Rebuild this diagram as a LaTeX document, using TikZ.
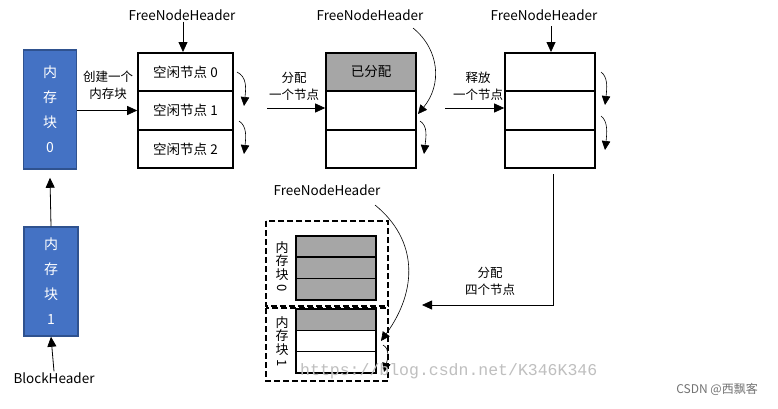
\documentclass[tikz,border=0pt]{standalone}
\usepackage{fontspec}
\newfontfamily\cjk{Noto Sans CJK SC}
\newfontfamily\wmfont{Liberation Mono}
\usetikzlibrary{arrows.meta}
\definecolor{blkfill}{RGB}{68,114,196}
\definecolor{blkdraw}{RGB}{47,82,143}
\definecolor{usedfill}{RGB}{166,166,166}
\tikzset{
  arr/.style={-{Triangle[length=10pt,width=9pt]}, line width=0.8pt},
  curl/.style={-{Triangle[length=9pt,width=8.5pt]}, line width=0.6pt},
  blk/.style={fill=blkfill, draw=blkdraw, line width=1.5pt, text=white, align=center,
    font=\cjk\fontsize{14}{25}\selectfont, inner sep=0pt},
  cell/.style={draw, line width=1.6pt, minimum height=38.5pt, inner sep=0pt,
    font=\cjk\fontsize{13.5}{16}\selectfont},
  cellA/.style={cell, minimum width=95pt},
  cellB/.style={cell, minimum width=90pt},
  small/.style={draw, line width=1.6pt, minimum width=80pt, minimum height=21.3pt, inner sep=0pt},
  used/.style={fill=usedfill},
  hdr/.style={font=\cjk\fontsize{13.5}{16}\selectfont, inner sep=1pt},
  lbl/.style={font=\cjk\fontsize{12.5}{17}\selectfont, align=center, inner sep=0pt},
  vtxt/.style={font=\cjk\fontsize{13}{13.5}\selectfont, align=center, inner sep=0pt},
  dbox/.style={draw, line width=1.5pt, dash pattern=on 6pt off 3pt},
}
\begin{document}
\begin{tikzpicture}[x=1pt,y=-1pt]
\useasboundingbox[fill=white] (0,0) rectangle (778,408);

% memory blocks
\node[blk, minimum width=53pt, minimum height=119pt] (b0) at (50,109.5) {内\\存\\块\\0};
\node[blk, minimum width=54pt, minimum height=109pt] (b1) at (51,281.5) {内\\存\\块\\1};
\node[hdr] (bh) at (54,378) {BlockHeader};
\draw[arr] (b1.north) -- ([yshift=-8pt]b0.south);
\draw[arr] (bh.north) -- (b1.south);

% column 1
\node[cellA] (c10) at (185.5,72) {空闲节点 0};
\node[cellA] (c11) at (185.5,110.5) {空闲节点 1};
\node[cellA] (c12) at (185.5,149) {空闲节点 2};
\node[hdr] (fh1) at (182,15) {FreeNodeHeader};
\draw[arr] (fh1.south -| 183,0) -- (183,52);
\node[lbl] (l1) at (108,85) {创建一个\\内存块};
\draw[arr] (b0.east |- c11.west) -- (c11.west);
\coordinate (k1a) at (237,72); \coordinate (k1b) at (244,106);
\coordinate (k1c) at (239,121); \coordinate (k1d) at (244,154);
\draw[curl] (k1a) .. controls (247,77) and (246,88) .. (k1b);
\draw[curl] (k1c) .. controls (247,126) and (246,137) .. (k1d);

% column 2
\node[cellB, used] (c20) at (371,72) {已分配};
\node[cellB] (c21) at (371,110.5) {};
\node[cellB] (c22) at (371,149) {};
\node[hdr] (fh2) at (370,15) {FreeNodeHeader};
\coordinate (a2) at (267,108);
\node[lbl] (l2) at (294,86) {分配\\一个节点};
\draw[arr] (a2) -- (a2 -| c21.west);
\coordinate (h2) at (413,28); \coordinate (h2e) at (418,114);
\draw[curl] (h2) .. controls (440,50) and (442,85) .. (h2e);
\coordinate (k2a) at (420,121); \coordinate (k2b) at (424,154);
\draw[curl] (k2a) .. controls (428,126) and (426,137) .. (k2b);

% column 3
\node[cellB] (c30) at (550,72) {};
\node[cellB] (c31) at (550,110.5) {};
\node[cellB] (c32) at (550,149) {};
\node[hdr] (fh3) at (544,15) {FreeNodeHeader};
\draw[arr] (551,26) -- (551,52);
\coordinate (a3) at (445,108);
\node[lbl] (l3) at (478,86) {释放\\一个节点};
\draw[arr] (a3) -- (a3 -| c31.west);
\coordinate (k3a) at (601,72); \coordinate (k3b) at (605,105);
\coordinate (k3c) at (601,116); \coordinate (k3d) at (605,150);
\draw[curl] (k3a) .. controls (608,77) and (607,88) .. (k3b);
\draw[curl] (k3c) .. controls (608,121) and (607,133) .. (k3d);

% allocation of four nodes
\coordinate (a4) at (422,305);
\draw[arr] (553,174) |- (a4);
\node[lbl] (l4) at (490,281) {分配\\四个节点};

% bottom group
\draw[dbox] (266,221) rectangle (388,306);
\draw[dbox] (266,308) rectangle (388,381);
\node[small, used] (d00) at (336,246.5) {};
\node[small, used] (d01) at (336,267.8) {};
\node[small, used] (d02) at (336,289.1) {};
\node[small, used] (d10) at (336,319.7) {};
\node[small] (d11) at (336,341) {};
\node[small] (d12) at (336,362.3) {};
\node[vtxt] (v0) at (282,267) {内\\存\\块\\\rotatebox[origin=c]{-90}{0}};
\node[vtxt] (v1) at (282,342) {内\\存\\块\\\rotatebox[origin=c]{-90}{1}};
\node[hdr] (fh4) at (327,190) {FreeNodeHeader};
\coordinate (h4) at (375,205); \coordinate (h4e) at (381,341);
\draw[curl] (h4) .. controls (418,240) and (418,290) .. (h4e);
\coordinate (k4a) at (383,345); \coordinate (k4b) at (384,372);
\draw[curl] (k4a) .. controls (390,349) and (388,358) .. (k4b);

% watermarks
\node[font=\wmfont\fontsize{16.5}{18}\selectfont, text=black!25, anchor=west, inner sep=0pt] (wm) at (300,371) {https://blog.csdn.net/K346K346};
\node[font=\cjk\fontsize{12}{14}\selectfont, text=black!55, anchor=east, inner sep=0pt] (wm2) at (758,389) {CSDN @西飘客};
\end{tikzpicture}
\end{document}
